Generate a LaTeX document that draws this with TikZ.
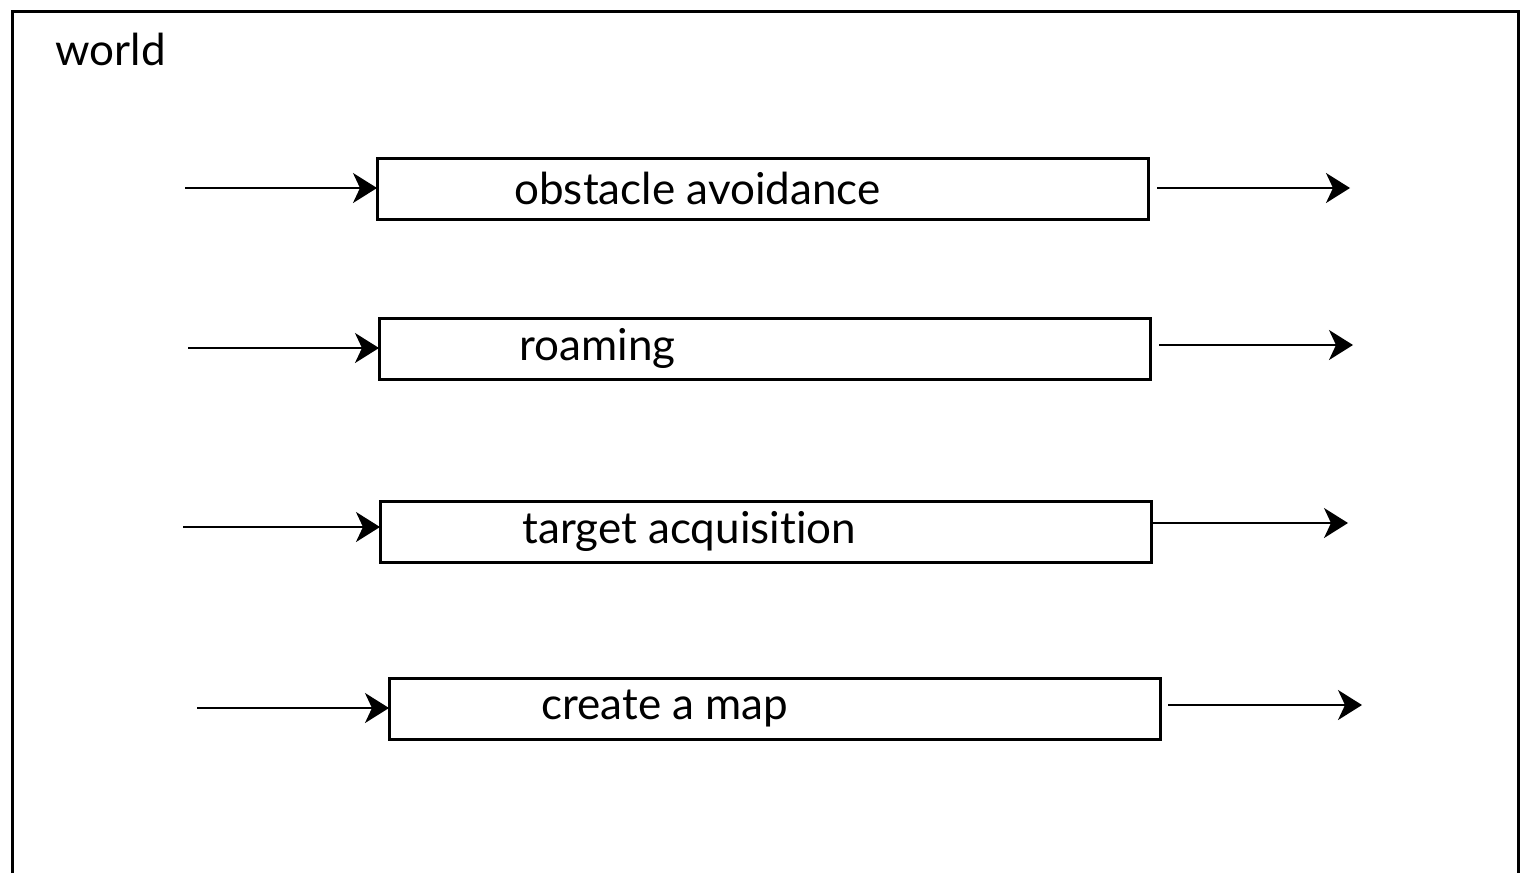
\documentclass[tikz,border=0pt]{standalone}
\usepackage{fontspec}
\setmainfont{Lato}[Ligatures=NoCommon]
\usetikzlibrary{arrows.meta, positioning}
\tikzset{
  behaviour/.style={
    rectangle,
    minimum width=385.5pt, minimum height=30.5pt,
    draw, line width=1.5pt, inner sep=0pt, outer sep=0pt,
  },
  caption/.style={anchor=west, inner sep=0pt, font=\fontsize{22}{26}\selectfont},
  arrow/.style={-{Stealth[length=12pt, width=15pt, inset=3.5pt]}, line width=1pt},
}
\begin{document}
\begin{tikzpicture}[x=0.5pt, y=-0.5pt]
  \useasboundingbox (0,0) rectangle (1529,873);
  % world frame, left open at the bottom
  \draw[line width=1.5pt] (12,873) -- (12,11) -- (1518,11) -- (1518,873);
  \node[caption] (world) at (55,49) {world};

  \node[behaviour, anchor=north west] (obstacle) at (377,158) {};
  \node[behaviour, below=49.5pt of obstacle.south west, anchor=north west, xshift=1pt] (roaming) {};
  \node[behaviour, below=61pt of roaming.south west, anchor=north west, xshift=0.5pt] (target) {};
  \node[behaviour, below=58pt of target.south west, anchor=north west, xshift=4.5pt] (map) {};

  \node[caption, right=68.5pt of obstacle.west] (obstacletxt) {obstacle avoidance};
  \node[caption, right=70pt of roaming.west] (roamingtxt) {roaming};
  \node[caption, right=71pt of target.west] (targettxt) {target acquisition};
  \node[caption, right=76pt of map.west] (maptxt) {create a map};

  % loose ends of the inputs and outputs
  \coordinate (obstaclein) at (185,188);
  \coordinate (obstacleout) at (1350,188);
  \coordinate (roamingin) at (188,348);
  \coordinate (roamingout) at (1353,345);
  \coordinate (targetin) at (183,527);
  \coordinate (targetout) at (1348,523);
  \coordinate (mapin) at (197,708);
  \coordinate (mapout) at (1362,705);

  \draw[arrow] (obstaclein) -- (obstaclein -| obstacle.west);
  \draw[arrow] (roamingin) -- (roamingin -| roaming.west);
  \draw[arrow] (targetin) -- (targetin -| target.west);
  \draw[arrow] (mapin) -- (mapin -| map.west);

  \draw[arrow] ([xshift=4.5pt]obstacleout -| obstacle.east) -- (obstacleout);
  \draw[arrow] ([xshift=4.5pt]roamingout -| roaming.east) -- (roamingout);
  \draw[arrow] ([xshift=1pt]targetout -| target.east) -- (targetout);
  \draw[arrow] ([xshift=4pt]mapout -| map.east) -- (mapout);
\end{tikzpicture}
\end{document}
